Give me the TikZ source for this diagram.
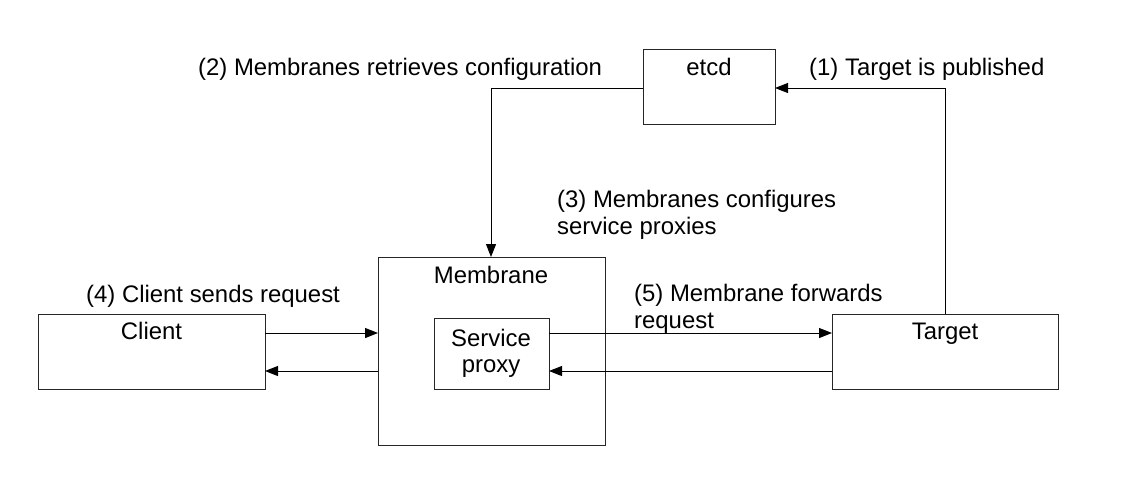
\documentclass[tikz,border=0pt]{standalone}
\usepackage{fontspec}
\setmainfont{Liberation Sans}
\usetikzlibrary{arrows.meta}
\begin{document}
\begin{tikzpicture}[x=1pt,y=-1pt,
  box/.style={draw=black!85, line width=1pt, rectangle, inner sep=0pt, outer sep=0pt, anchor=north west},
  txt/.style={inner sep=0pt, anchor=base, font=\fontsize{23.9}{26.5}\selectfont, align=center},
  lbl/.style={inner sep=0pt, anchor=base west, font=\fontsize{23.9}{26.5}\selectfont, align=left},
  conn/.style={line width=1pt, -{Triangle[length=13pt,width=10pt]}}]
\useasboundingbox[fill=white] (0,0) rectangle (1123,483);
% boxes
\node[box, minimum width=132pt, minimum height=75pt] (etcd) at (643,49) {};
\node[box, minimum width=227pt, minimum height=188pt] (membrane) at (378,257) {};
\node[box, minimum width=115pt, minimum height=71pt] (proxy) at (434,318) {};
\node[box, minimum width=227pt, minimum height=75pt] (client) at (38,314) {};
\node[box, minimum width=226pt, minimum height=75pt] (target) at (832,314) {};
% box texts
\node[txt] (etcdT) at (709,75) {etcd};
\node[txt] (membraneT) at (491,283) {Membrane};
\node[txt, font=\fontsize{23.9}{25.5}\selectfont] (proxyT) at (491,372) {Service\\proxy};
\node[txt] (clientT) at (151.5,339) {Client};
\node[txt] (targetT) at (945,339) {Target};
% labels
\node[lbl] (l2) at (198,75) {(2) Membranes retrieves configuration};
\node[lbl] (l1) at (809,75) {(1) Target is published};
\node[lbl] (l3) at (557,234) {(3) Membranes configures\\service proxies};
\node[lbl] (l4) at (86,302) {(4) Client sends request};
\node[lbl] (l5) at (634,328) {(5) Membrane forwards\\request};
% connectors
\coordinate (c2) at (491,88);
\coordinate (c1) at (945,88);
\draw[conn] (etcd.west |- c2) -| (membrane.north -| c2);
\draw[conn] (target.north -| c1) |- (etcd.east |- c1);
\coordinate (hi) at (0,333);
\coordinate (lo) at (0,371);
\draw[conn] (client.east |- hi) -- (membrane.west |- hi);
\draw[conn] (membrane.west |- lo) -- (client.east |- lo);
\draw[conn] (proxy.east |- hi) -- (target.west |- hi);
\draw[conn] (target.west |- lo) -- (proxy.east |- lo);
\end{tikzpicture}
\end{document}
